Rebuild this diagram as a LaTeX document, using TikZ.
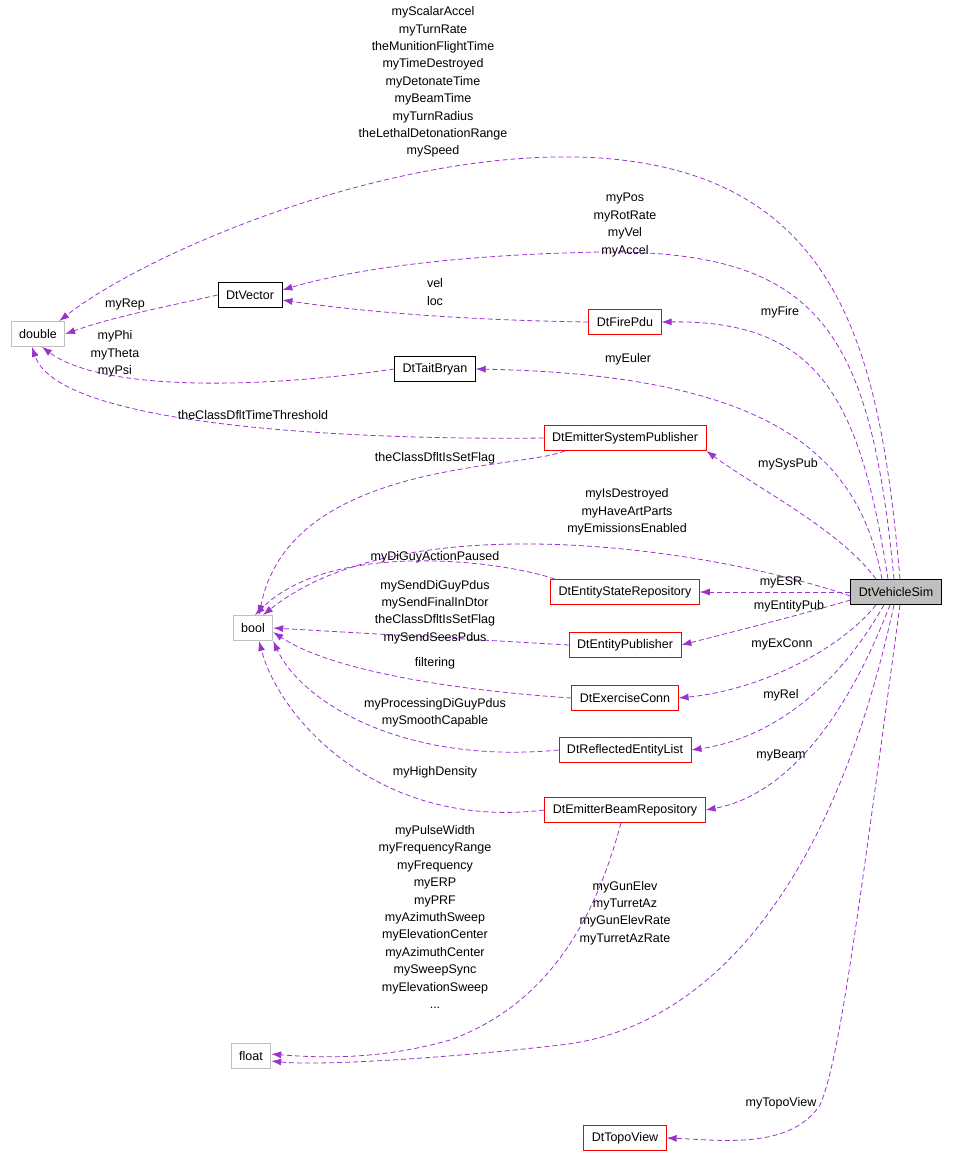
\documentclass[tikz,border=0pt]{standalone}
\usepackage{fontspec}
\setmainfont{Liberation Sans}
\usetikzlibrary{arrows.meta,positioning}
\definecolor{edgepurple}{HTML}{9A32CD}
\definecolor{extgray}{HTML}{BFBFBF}

\begin{document}
\begin{tikzpicture}[
    x=1pt, y=-1pt,
    font=\fontsize{12.5}{17.4}\selectfont,
    cls/.style={rectangle, draw=red, thick, fill=white, minimum height=25pt, inner xsep=8pt},
    known/.style={rectangle, draw=black, thick, fill=white, minimum height=25pt, inner xsep=8pt},
    ext/.style={rectangle, draw=extgray, thick, fill=white, minimum height=25pt, inner xsep=8pt},
    self/.style={rectangle, draw=black, thick, fill=extgray, minimum height=25pt, inner xsep=8pt},
    dep/.style={draw=edgepurple, dash pattern=on 5pt off 3pt, thick, -{Latex[length=10pt,width=7pt]}},
    lbl/.style={align=center, inner sep=0pt}
]
    \useasboundingbox (0,0) rectangle (955,1160);

    % classes
    \node[ext] (double) at (38,334) {double};
    \node[known] (vector) at (250,295) {DtVector};
    \node[cls] (firepdu) at (625,322) {DtFirePdu};
    \node[known] (tait) at (435,369) {DtTaitBryan};
    \node[cls] (syspub) at (625,438) {DtEmitterSystemPublisher};
    \node[self] (vsim) at (896,592) {DtVehicleSim};
    \node[cls] (esr) at (625,592) {DtEntityStateRepository};
    \node[ext] (bool) at (253,628) {bool};
    \node[cls] (entpub) at (625,645) {DtEntityPublisher};
    \node[cls] (exconn) at (625,698) {DtExerciseConn};
    \node[cls] (refl) at (625,750) {DtReflectedEntityList};
    \node[cls] (beam) at (625,810) {DtEmitterBeamRepository};
    \node[ext] (float) at (251,1056) {float};
    \node[cls] (topo) at (625,1138) {DtTopoView};

    % edges to double
    \draw[dep] ([xshift=4pt]vsim.north) .. controls (880,350) and (840,175) .. (600,158)
        .. controls (400,145) and (150,250) .. ([xshift=-6pt]double.north east);
    \draw[dep] (vector.west) .. controls (150,310) and (110,318) .. (double.east);
    \draw[dep] (tait.west) .. controls (250,390) and (100,390) .. ([xshift=4pt]double.south);
    \draw[dep] (syspub.west) .. controls (380,440) and (60,430) .. ([xshift=-6pt]double.south);

    % edges to DtVector
    \draw[dep] ([xshift=-2pt]vsim.north) .. controls (870,330) and (820,250) .. (600,252)
        .. controls (450,255) and (350,270) .. ([yshift=5pt]vector.east);
    \draw[dep] (firepdu.west) .. controls (450,320) and (350,310) .. ([yshift=-5pt]vector.east);

    % edges from DtVehicleSim
    \draw[dep] ([xshift=-8pt]vsim.north) .. controls (860,400) and (820,320) .. (firepdu.east);
    \draw[dep] ([xshift=-14pt]vsim.north) .. controls (860,460) and (780,375) .. (tait.east);
    \draw[dep] ([xshift=-20pt]vsim.north) .. controls (840,530) and (760,490) .. (syspub.south east);
    \draw[dep] (vsim.west) -- (esr.east);
    \draw[dep] ([yshift=-8pt]vsim.west) .. controls (800,615) and (740,630) .. (entpub.east);
    \draw[dep] ([xshift=-20pt]vsim.south) .. controls (840,650) and (760,690) .. (exconn.east);
    \draw[dep] ([xshift=-12pt]vsim.south) .. controls (830,700) and (760,740) .. (refl.east);
    \draw[dep] ([xshift=-6pt]vsim.south) .. controls (830,760) and (760,800) .. (beam.east);
    \draw[dep] ([xshift=-2pt]vsim.south) .. controls (830,900) and (700,1030) .. (560,1045)
        .. controls (450,1058) and (320,1066) .. ([yshift=-5pt]float.east);
    \draw[dep] ([xshift=4pt]vsim.south) .. controls (860,900) and (840,1060) .. (820,1105)
        .. controls (790,1150) and (720,1140) .. (topo.east);

    % edges to bool
    \draw[dep] ([xshift=-60pt]syspub.south) .. controls (520,470) and (290,460) .. ([xshift=6pt]bool.north);
    \draw[dep] ([yshift=-4pt]vsim.west) .. controls (700,545) and (400,505) .. ([xshift=10pt]bool.north);
    \draw[dep] ([xshift=-70pt]esr.north) .. controls (500,560) and (330,540) .. ([xshift=2pt]bool.north);
    \draw[dep] (entpub.west) -- (bool.east);
    \draw[dep] (exconn.west) .. controls (450,690) and (330,670) .. ([yshift=-4pt]bool.east);
    \draw[dep] (refl.west) .. controls (400,765) and (300,700) .. (bool.south east);
    \draw[dep] (beam.west) .. controls (380,830) and (280,720) .. ([xshift=6pt]bool.south);

    % edge to float
    \draw[dep] ([xshift=-4pt]beam.south) .. controls (600,900) and (560,1000) .. (450,1040)
        .. controls (380,1060) and (320,1058) .. ([yshift=2pt]float.east);

    % labels
    \node[lbl] at (433,82) {myScalarAccel\\myTurnRate\\theMunitionFlightTime\\myTimeDestroyed\\myDetonateTime\\myBeamTime\\myTurnRadius\\theLethalDetonationRange\\mySpeed};
    \node[lbl] at (625,225) {myPos\\myRotRate\\myVel\\myAccel};
    \node[lbl] at (125,304) {myRep};
    \node[lbl] at (435,292) {vel\\loc};
    \node[lbl] at (780,312) {myFire};
    \node[lbl] at (115,354) {myPhi\\myTheta\\myPsi};
    \node[lbl] at (628,359) {myEuler};
    \node[lbl] at (253,415) {theClassDfltTimeThreshold};
    \node[lbl] at (788,464) {mySysPub};
    \node[lbl] at (435,458) {theClassDfltIsSetFlag};
    \node[lbl] at (627,512) {myIsDestroyed\\myHaveArtParts\\myEmissionsEnabled};
    \node[lbl] at (435,557) {myDiGuyActionPaused};
    \node[lbl] at (781,582) {myESR};
    \node[lbl] at (435,612) {mySendDiGuyPdus\\mySendFinalInDtor\\theClassDfltIsSetFlag\\mySendSeesPdus};
    \node[lbl] at (789,606) {myEntityPub};
    \node[lbl] at (435,663) {filtering};
    \node[lbl] at (782,644) {myExConn};
    \node[lbl] at (435,713) {myProcessingDiGuyPdus\\mySmoothCapable};
    \node[lbl] at (781,695) {myRel};
    \node[lbl] at (435,772) {myHighDensity};
    \node[lbl] at (781,755) {myBeam};
    \node[lbl] at (435,917) {myPulseWidth\\myFrequencyRange\\myFrequency\\myERP\\myPRF\\myAzimuthSweep\\myElevationCenter\\myAzimuthCenter\\mySweepSync\\myElevationSweep\\...};
    \node[lbl] at (625,913) {myGunElev\\myTurretAz\\myGunElevRate\\myTurretAzRate};
    \node[lbl] at (781,1103) {myTopoView};
\end{tikzpicture}
\end{document}
